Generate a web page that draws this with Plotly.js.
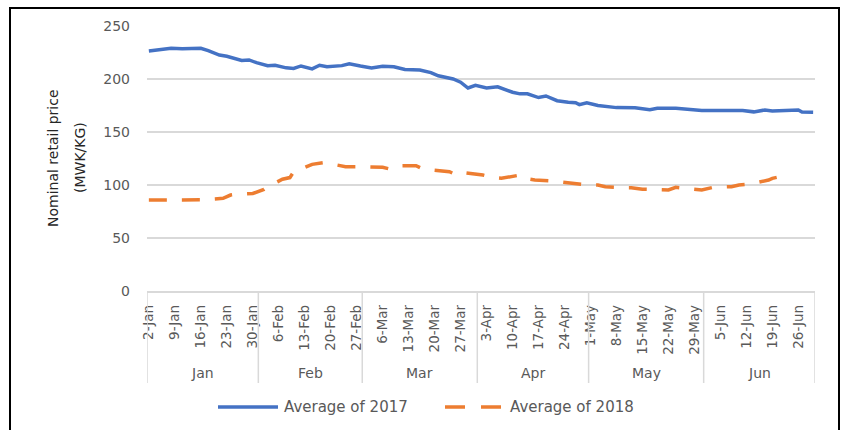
<!DOCTYPE html>
<html>
<head>
<meta charset="utf-8">
<script src="https://cdn.plot.ly/plotly-3.0.1.min.js"></script>
<style>
  html, body { margin: 0; padding: 0; background: #ffffff; }
  #chart { width: 843px; height: 430px; }
</style>
</head>
<body>
<div id="chart"></div>
<script>
// ---------------- DATA ----------------
const YEAR = '2018-';
const seriesNames = ['Average of 2017', 'Average of 2018'];

// Average of 2017 (MWK/KG)
const dates2017 = ['01-02','01-05','01-08','01-11','01-15','01-16','01-18','01-21','01-23','01-27','01-29','01-31',
  '02-03','02-05','02-08','02-10','02-12','02-15','02-17','02-19','02-23','02-25','02-28',
  '03-03','03-06','03-09','03-12','03-14','03-16','03-19','03-21','03-25','03-27','03-29','03-31',
  '04-03','04-06','04-10','04-12','04-14','04-17','04-19','04-22','04-25','04-27','04-28','04-30',
  '05-03','05-08','05-13','05-17','05-19','05-24','05-31',
  '06-11','06-14','06-17','06-19','06-26','06-27','06-30'];
const values2017 = [226.5,228,229,228.5,229.5,229,226.7,222.6,221.5,217.5,218,215.4,
  212.6,213,210.5,210,212.3,209.5,213,211.6,212.6,214.4,212.3,
  210.5,212,211.6,209,208.4,208.4,206,203,200,197,191.5,194,
  191.5,192.7,187.5,186,186,182.5,184,179.5,178,177.6,175.8,177.6,
  175,173,172.9,171,172.3,172.3,170.3,
  170.2,169,170.8,169.8,170.8,168.8,168.6];

// Average of 2018 (MWK/KG)
const dates2018 = ['01-02','01-06','01-11','01-16','01-22','01-24','01-25','01-30',
  '02-02','02-03','02-07','02-09','02-10','02-11','02-15','02-18','02-20','02-24',
  '03-01','03-06','03-08','03-10','03-15','03-17','03-19','03-24','03-26','03-28',
  '04-02','04-05','04-07','04-11','04-12','04-13','04-16','04-20','04-23','04-25','04-30',
  '05-03','05-05','05-10','05-12','05-15','05-20','05-22','05-24','05-30','05-31',
  '06-03','06-08','06-10','06-13','06-18','06-19','06-21','06-22'];
const values2018 = [85.8,86,85.8,86,87.4,90.5,91,92,
  95.8,98.4,105.4,107,112.5,113.5,119.5,121,120,117.3,
  117.3,116.7,115,118,118.2,114.8,114.2,112.5,109.4,111.6,
  109.4,106.9,106.3,108.5,109.4,106.3,104.7,104,102.8,101.6,100,
  100,98.4,97.5,97.5,96,95.3,95.3,97.8,96,95.3,
  97.8,98.4,100,100.9,104.7,106.3,107.8,106.6];

// x tick labels (weekly)
const tickDates = ['01-02','01-09','01-16','01-23','01-30','02-06','02-13','02-20','02-27',
  '03-06','03-13','03-20','03-27','04-03','04-10','04-17','04-24',
  '05-01','05-08','05-15','05-22','05-29','06-05','06-12','06-19','06-26'];
const tickLabels = ['2-Jan','9-Jan','16-Jan','23-Jan','30-Jan','6-Feb','13-Feb','20-Feb','27-Feb',
  '6-Mar','13-Mar','20-Mar','27-Mar','3-Apr','10-Apr','17-Apr','24-Apr',
  '1-May','8-May','15-May','22-May','29-May','5-Jun','12-Jun','19-Jun','26-Jun'];

// month groups
const monthNames = ['Jan','Feb','Mar','Apr','May','Jun'];
const monthEdges = ['01-01T12:00','01-31T12:00','02-28T12:00','03-31T12:00','04-30T12:00','05-31T12:00','06-30T12:00'];

const yTitleLines = ['Nominal retail price', '(MWK/KG)'];

// ---------------- STYLE ----------------
const COLORS = ['#4472C4', '#ED7D31'];
const FONT = 'DejaVu Sans, Liberation Sans, sans-serif';
const GRID = '#d9d9d9';
const TXT = '#595959';

const toX = d => YEAR + d;
const edgeMs = monthEdges.map(e => Date.parse(YEAR + e + ':00Z'));
const msToStr = ms => new Date(ms).toISOString().replace('T', ' ').replace('Z', '');

const traces = [
  {
    x: dates2017.map(toX), y: values2017, type: 'scatter', mode: 'lines',
    name: seriesNames[0], line: {color: COLORS[0], width: 3.5}
  },
  {
    x: dates2018.map(toX), y: values2018, type: 'scatter', mode: 'lines',
    name: seriesNames[1], line: {color: COLORS[1], width: 3.5, dash: '18px,15px'}
  }
];

// pixel geometry helpers (plot area: x 147..815, y 26..291)
const L = 147, R = 28, T = 26, B = 139, W = 843, H = 430;
const pw = W - L - R, ph = H - T - B;
const px = X => (X - L) / pw;
const py = Y => (H - B - Y) / ph;

const shapes = [];
// month separators
edgeMs.forEach(ms => {
  shapes.push({type: 'line', xref: 'x', yref: 'paper', x0: msToStr(ms), x1: msToStr(ms),
    y0: 0, y1: py(383), line: {color: GRID, width: 1.5}});
});
// outer border
shapes.push({type: 'rect', xref: 'paper', yref: 'paper', x0: px(10), x1: px(839), y0: py(445), y1: py(8),
  line: {color: '#000000', width: 2}, fillcolor: 'rgba(0,0,0,0)'});
// legend samples
const legY = py(407);
shapes.push({type: 'line', xref: 'paper', yref: 'paper', x0: px(218), x1: px(278), y0: legY, y1: legY,
  line: {color: COLORS[0], width: 3.5}});
shapes.push({type: 'line', xref: 'paper', yref: 'paper', x0: px(445), x1: px(505), y0: legY, y1: legY,
  line: {color: COLORS[1], width: 3.5, dash: '20px,16px'}});

const annotations = [];
monthNames.forEach((m, i) => {
  annotations.push({xref: 'x', yref: 'paper', x: msToStr((edgeMs[i] + edgeMs[i + 1]) / 2), y: py(373),
    text: m, showarrow: false, xanchor: 'center', yanchor: 'middle',
    font: {family: FONT, size: 14, color: TXT}});
});
// y-axis title (two lines)
[53, 80].forEach((X, i) => {
  annotations.push({xref: 'paper', yref: 'paper', x: px(X), y: py(158), text: yTitleLines[i],
    textangle: -90, showarrow: false, xanchor: 'center', yanchor: 'middle',
    font: {family: FONT, size: 14, color: '#262626'}});
});
// legend labels
annotations.push({xref: 'paper', yref: 'paper', x: px(282), y: legY, text: seriesNames[0], showarrow: false,
  xanchor: 'left', yanchor: 'middle', font: {family: FONT, size: 15, color: TXT}});
annotations.push({xref: 'paper', yref: 'paper', x: px(508), y: legY, text: seriesNames[1], showarrow: false,
  xanchor: 'left', yanchor: 'middle', font: {family: FONT, size: 15, color: TXT}});

const layout = {
  width: W, height: H,
  margin: {l: L, r: R, t: T, b: B, pad: 0},
  paper_bgcolor: '#ffffff', plot_bgcolor: '#ffffff',
  showlegend: false,
  font: {family: FONT, color: TXT},
  xaxis: {
    type: 'date',
    range: [msToStr(edgeMs[0]), msToStr(edgeMs[edgeMs.length - 1])],
    tickmode: 'array', tickvals: tickDates.map(toX), ticktext: tickLabels,
    tickangle: -90, ticks: '', showgrid: false, zeroline: false,
    showline: true, linecolor: GRID, linewidth: 1.5,
    tickfont: {family: FONT, size: 13.5, color: TXT},
    ticklabelstandoff: 7, fixedrange: true
  },
  yaxis: {
    range: [0, 250], dtick: 50, tick0: 0, tickmode: 'linear',
    showgrid: true, gridcolor: GRID, gridwidth: 1.5, zeroline: false,
    showline: false, ticks: '',
    tickfont: {family: FONT, size: 14, color: TXT},
    ticklabelstandoff: 16, fixedrange: true
  },
  shapes: shapes,
  annotations: annotations
};

Plotly.newPlot('chart', traces, layout, {displayModeBar: false, staticPlot: true});
</script>
</body>
</html>
